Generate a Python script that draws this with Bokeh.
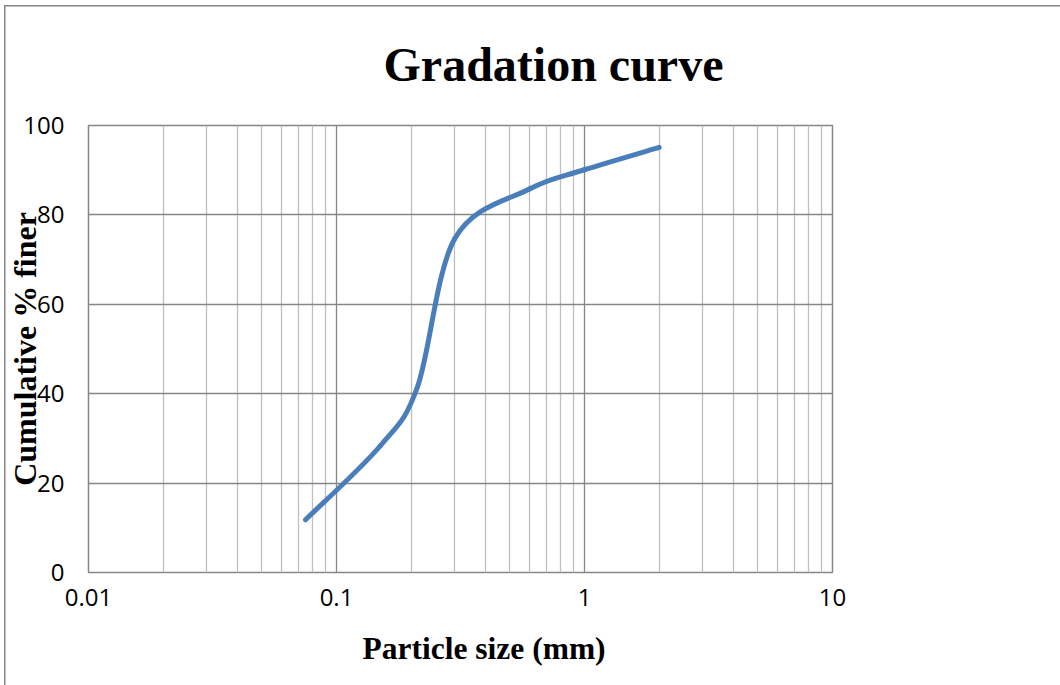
import numpy as np
from bokeh.plotting import figure
from bokeh.models import FixedTicker, Range1d, Title
from bokeh.embed import file_html
from bokeh.resources import INLINE

# Sieve analysis -- cumulative percent passing
sieve_mm = [0.075, 0.15, 0.212, 0.3, 0.6, 1.0, 2.0]
percent_finer = [11.8, 28.3, 41.5, 74.7, 85.8, 90.1, 95.1]

x_tick_values = [0.01, 0.1, 1, 10]
x_tick_labels = ["0.01", "0.1", "1", "10"]
y_tick_values = [0, 20, 40, 60, 80, 100]

title_text = "Gradation curve"
x_title = "Particle size (mm)"
y_title = "Cumulative % finer"

W, H = 1060, 685
LEFT, RIGHT, TOP, BOTTOM = 88, 228, 125, 113
MAJOR_GRID = "#868686"
MINOR_GRID = "#bfbfbf"
LINE_BLUE = "#4a7ebb"
SERIF = "Liberation Serif"

p = figure(
    width=W, height=H,
    x_axis_type="log",
    x_range=Range1d(0.01, 10), y_range=Range1d(0, 100),
    output_backend="svg", toolbar_location=None,
    min_border_left=LEFT, min_border_right=RIGHT,
    min_border_top=TOP, min_border_bottom=BOTTOM,
    background_fill_color="white",
    border_fill_color="white", border_fill_alpha=0,
)

# thin chart-area rule along the left and top edges of the page
p.styles = {
    "background-color": "white",
    "background-image": "linear-gradient(#868686, #868686), linear-gradient(#868686, #868686)",
    "background-size": "1.5px 100%, 100% 1.5px",
    "background-position": "4px 5px, 4px 5px",
    "background-repeat": "no-repeat",
}

# frame outline
p.outline_line_color = MAJOR_GRID
p.outline_line_width = 1.5

# log grid: decades dark, 2..9 light
minor_x = [m * d for d in (0.01, 0.1, 1) for m in range(2, 10)]
p.xgrid.ticker = FixedTicker(ticks=x_tick_values, minor_ticks=minor_x)
p.xgrid.grid_line_color = MAJOR_GRID
p.xgrid.grid_line_width = 1.3
p.xgrid.minor_grid_line_color = MINOR_GRID
p.xgrid.minor_grid_line_width = 1.3
p.ygrid.ticker = FixedTicker(ticks=y_tick_values)
p.ygrid.grid_line_color = MAJOR_GRID
p.ygrid.grid_line_width = 1.3

# axes: labels only
p.xaxis.ticker = FixedTicker(ticks=x_tick_values)
p.xaxis.major_label_overrides = {v: s for v, s in zip(x_tick_values, x_tick_labels)}
p.yaxis.ticker = FixedTicker(ticks=y_tick_values)
for ax in (p.xaxis[0], p.yaxis[0]):
    ax.axis_line_color = None
    ax.major_tick_line_color = None
    ax.minor_tick_line_color = None
    ax.major_tick_out = 0
    ax.major_tick_in = 0
    ax.minor_tick_out = 0
    ax.minor_tick_in = 0
    ax.major_label_text_font = "Open Sans"
    ax.major_label_text_font_size = "24px"
    ax.major_label_text_color = "#000000"
p.xaxis.major_label_standoff = 16
p.yaxis.major_label_standoff = 24

# y title sits over the tick labels
p.yaxis.axis_label = y_title
p.yaxis.axis_label_text_font = SERIF
p.yaxis.axis_label_text_font_style = "bold"
p.yaxis.axis_label_text_font_size = "32px"
p.yaxis.axis_label_text_color = "#000000"
p.yaxis.axis_label_standoff = -23

# chart title (standoff kept small enough that the frame top stays put)
p.title.text = title_text
p.title.align = "left"
p.title.offset = 295
p.title.standoff = 70
p.title.text_font = SERIF
p.title.text_font_style = "bold"
p.title.text_font_size = "48px"
p.title.text_color = "#000000"

# x title under the tick labels
p.add_layout(Title(text=x_title, align="left", offset=274, standoff=40,
                   text_font=SERIF, text_font_style="bold",
                   text_font_size="31.5px", text_color="#000000"), "below")

# smoothed line: cubic Bezier segments with Catmull-Rom tangents (log-x space)
lx = np.log10(np.array(sieve_mm))
yy = np.array(percent_finer, dtype=float)
pts = np.column_stack([lx, yy])
prev_pts = np.vstack([pts[:1], pts[:-1]])
next_pts = np.vstack([pts[1:], pts[-1:]])
tang = (next_pts - prev_pts) / 6.0
c0 = pts[:-1] + tang[:-1]
c1 = pts[1:] - tang[1:]
p.bezier(
    x0=10 ** lx[:-1], y0=yy[:-1], x1=10 ** lx[1:], y1=yy[1:],
    cx0=10 ** c0[:, 0], cy0=c0[:, 1], cx1=10 ** c1[:, 0], cy1=c1[:, 1],
    line_color=LINE_BLUE, line_width=5, line_cap="round",
)

open("out.html", "w").write(file_html(p, INLINE))
